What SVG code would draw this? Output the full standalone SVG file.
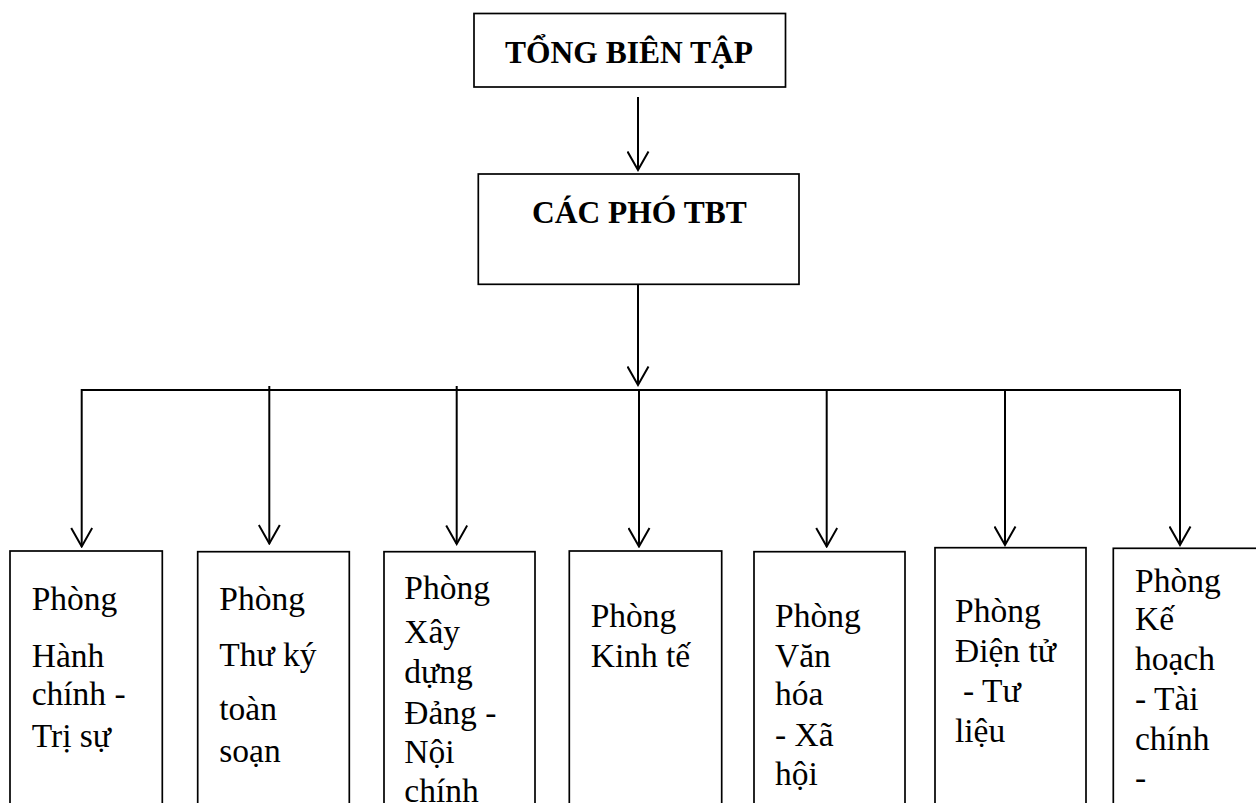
<svg xmlns="http://www.w3.org/2000/svg" width="1256" height="803" viewBox="0 0 1256 803">
  <style>
    .box { fill: #fff; stroke: #000; stroke-width: 1.7; }
    .head { font-family: "Liberation Serif", "Times New Roman", serif; font-weight: bold; font-size: 31.5px; fill: #000; }
    .dept { font-family: "Liberation Serif", "Times New Roman", serif; font-size: 33.5px; fill: #000; }
    .wire { stroke: #000; stroke-width: 2; fill: none; }
    .arrow { stroke: #000; stroke-width: 2; fill: none; marker-end: url(#vhead); }
  </style>
  <defs>
    <marker id="vhead" markerUnits="userSpaceOnUse" viewBox="-1 -1 21 23" refX="18.5" refY="10.5" markerWidth="21" markerHeight="23" orient="auto">
      <path d="M0,0 L18.5,10.5 L0,21" fill="none" stroke="#000" stroke-width="2"/>
    </marker>
  </defs>

  <rect width="1256" height="803" fill="#fff"/>

  <!-- connectors -->
  <g id="connectors">
    <line class="arrow" x1="638" y1="97" x2="638" y2="170"/>
    <line class="arrow" x1="638" y1="284" x2="638" y2="385"/>
    <line class="wire" x1="81.7" y1="390" x2="1180" y2="390"/>
    <line class="arrow" x1="81.7" y1="389" x2="81.7" y2="546.5"/>
    <line class="arrow" x1="269.3" y1="386" x2="269.3" y2="543.5"/>
    <line class="arrow" x1="456.7" y1="386" x2="456.7" y2="544"/>
    <line class="arrow" x1="639" y1="390" x2="639" y2="546.5"/>
    <line class="arrow" x1="826.7" y1="389" x2="826.7" y2="546.5"/>
    <line class="arrow" x1="1005" y1="389" x2="1005" y2="545"/>
    <line class="arrow" x1="1180" y1="389" x2="1180" y2="545"/>
  </g>

  <g id="tong-bien-tap">
    <rect class="box" x="474" y="13.5" width="311.5" height="73.5"/>
    <text class="head" x="505" y="63.3">TỔNG BIÊN TẬP</text>
  </g>

  <g id="cac-pho-tbt">
    <rect class="box" x="478.3" y="174" width="320.7" height="110.3"/>
    <text class="head" x="532" y="222.7">CÁC PHÓ TBT</text>
  </g>

  <g id="hanh-chinh">
    <rect class="box" x="10" y="551" width="152.3" height="300"/>
    <text class="dept">
      <tspan x="31.7" y="610">Phòng</tspan>
      <tspan x="31.7" y="666.7">Hành</tspan>
      <tspan x="31.7" y="705">chính -</tspan>
      <tspan x="31.7" y="746.7">Trị sự</tspan>
    </text>
  </g>

  <g id="thu-ky">
    <rect class="box" x="197.7" y="551.7" width="151.6" height="300"/>
    <text class="dept">
      <tspan x="219.3" y="610">Phòng</tspan>
      <tspan x="219.3" y="665.7">Thư ký</tspan>
      <tspan x="219.3" y="720">toàn</tspan>
      <tspan x="219.3" y="761.7">soạn</tspan>
    </text>
  </g>

  <g id="xay-dung-dang">
    <rect class="box" x="384" y="551.7" width="151" height="300"/>
    <text class="dept">
      <tspan x="404.3" y="599">Phòng</tspan>
      <tspan x="404.3" y="642.7">Xây</tspan>
      <tspan x="404.3" y="683.3">dựng</tspan>
      <tspan x="404.3" y="724">Đảng -</tspan>
      <tspan x="404.3" y="763.3">Nội</tspan>
      <tspan x="404.3" y="801.7">chính</tspan>
    </text>
  </g>

  <g id="kinh-te">
    <rect class="box" x="569.3" y="551" width="152.4" height="300"/>
    <text class="dept">
      <tspan x="590.7" y="626.7">Phòng</tspan>
      <tspan x="590.7" y="666.7">Kinh tế</tspan>
    </text>
  </g>

  <g id="van-hoa">
    <rect class="box" x="754" y="551.7" width="151" height="300"/>
    <text class="dept">
      <tspan x="775" y="626.7">Phòng</tspan>
      <tspan x="775" y="666.7">Văn</tspan>
      <tspan x="775" y="705">hóa</tspan>
      <tspan x="775" y="745.7">- Xã</tspan>
      <tspan x="775" y="785">hội</tspan>
    </text>
  </g>

  <g id="dien-tu">
    <rect class="box" x="935" y="547.7" width="151" height="300"/>
    <text class="dept">
      <tspan x="955" y="621.7">Phòng</tspan>
      <tspan x="955" y="661.7">Điện tử</tspan>
      <tspan x="963" y="701.7">- Tư</tspan>
      <tspan x="955" y="741.7">liệu</tspan>
    </text>
  </g>

  <g id="ke-hoach">
    <rect class="box" x="1113.3" y="548.3" width="152" height="300"/>
    <text class="dept">
      <tspan x="1135" y="591.7">Phòng</tspan>
      <tspan x="1135" y="630">Kế</tspan>
      <tspan x="1135" y="670">hoạch</tspan>
      <tspan x="1135" y="710">- Tài</tspan>
      <tspan x="1135" y="750">chính</tspan>
      <tspan x="1135" y="789">-</tspan>
    </text>
  </g>
</svg>
